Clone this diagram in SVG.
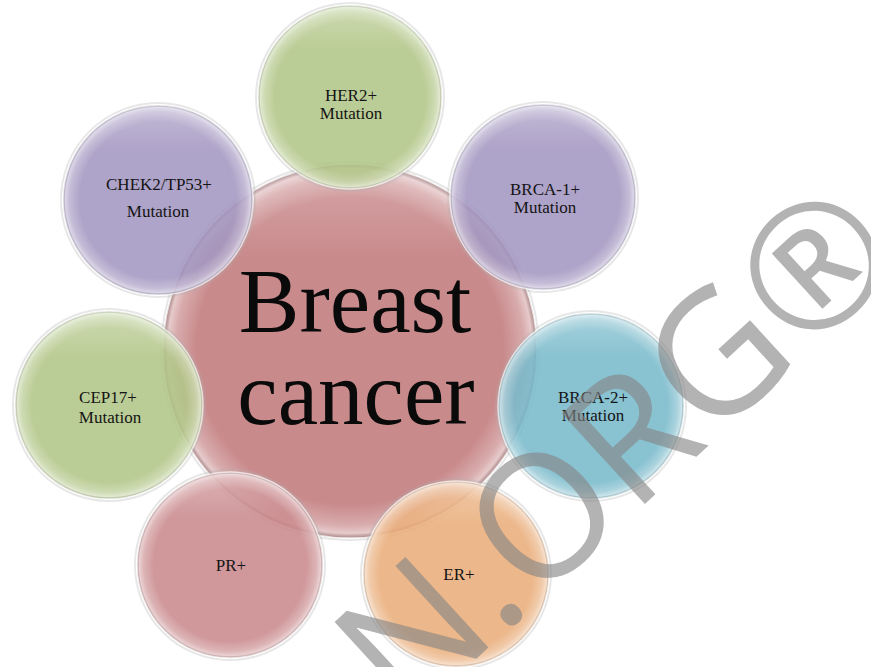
<svg xmlns="http://www.w3.org/2000/svg" width="871" height="667" viewBox="0 0 871 667">
  <style>
    .lbl { font-family: "Liberation Serif", "DejaVu Serif", serif; font-size: 17px; fill: #141414; text-anchor: middle; }
    .big { font-family: "Liberation Serif", "DejaVu Serif", serif; font-size: 91px; fill: #0a0a0a; text-anchor: middle; }
    .sat { fill-opacity: 0.86; }
    .rim { fill: url(#gloss); stroke: #ffffff; stroke-opacity: 0.7; stroke-width: 1.5; }
    .shadow { fill: none; stroke: #b0b0b0; stroke-opacity: 0.3; stroke-width: 2; }
    .wm { font-family: "Open Sans", "Liberation Sans", sans-serif; font-size: 172px; fill: #858585; fill-opacity: 0.62; }
  </style>
  <defs>
    <radialGradient id="gloss" cx="0.5" cy="0.5" r="0.5">
      <stop offset="0" stop-color="#ffffff" stop-opacity="0"/>
      <stop offset="0.82" stop-color="#ffffff" stop-opacity="0"/>
      <stop offset="0.93" stop-color="#ffffff" stop-opacity="0.28"/>
      <stop offset="0.975" stop-color="#ffffff" stop-opacity="0.55"/>
      <stop offset="1" stop-color="#8a8a8a" stop-opacity="0.45"/>
    </radialGradient>
    <linearGradient id="topHi" x1="0" y1="0" x2="0" y2="1">
      <stop offset="0" stop-color="#ffffff" stop-opacity="0.25"/>
      <stop offset="0.25" stop-color="#ffffff" stop-opacity="0"/>
      <stop offset="1" stop-color="#ffffff" stop-opacity="0"/>
    </linearGradient>
  </defs>
  <rect width="871" height="667" fill="#ffffff"/>

  <g id="center">
    <circle cx="350" cy="351" r="189" class="shadow"/>
    <circle cx="350" cy="351" r="187" fill="#c98a8c"/>
    <circle cx="350" cy="351" r="187" fill="url(#topHi)"/>
    <circle cx="350" cy="351" r="187" class="rim"/>
    <text class="big" x="355" y="332">Breast</text>
    <text class="big" x="356" y="424">cancer</text>
  </g>

  <g id="connectors"></g>

  <g id="her2">
    <circle cx="350" cy="97" r="94" class="shadow"/>
    <circle cx="350" cy="97" r="92" fill="#b0c585" class="sat"/>
    <circle cx="350" cy="97" r="92" fill="url(#topHi)"/>
    <circle cx="350" cy="97" r="92" class="rim"/>
    <text class="lbl" x="351" y="101">HER2+</text>
    <text class="lbl" x="351" y="119">Mutation</text>
  </g>

  <g id="brca1">
    <circle cx="543" cy="197" r="95" class="shadow"/>
    <circle cx="543" cy="197" r="93" fill="#a194bf" class="sat"/>
    <circle cx="543" cy="197" r="93" fill="url(#topHi)"/>
    <circle cx="543" cy="197" r="93" class="rim"/>
    <text class="lbl" x="545" y="195">BRCA-1+</text>
    <text class="lbl" x="545" y="213">Mutation</text>
  </g>

  <g id="brca2">
    <circle cx="591" cy="406" r="95" class="shadow"/>
    <circle cx="591" cy="406" r="93" fill="#76b8c9" class="sat"/>
    <circle cx="591" cy="406" r="93" fill="url(#topHi)"/>
    <circle cx="591" cy="406" r="93" class="rim"/>
    <text class="lbl" x="593" y="403">BRCA-2+</text>
    <text class="lbl" x="593" y="421">Mutation</text>
  </g>

  <g id="er">
    <circle cx="456" cy="574" r="95" class="shadow"/>
    <circle cx="456" cy="574" r="93" fill="#e9ab77" class="sat"/>
    <circle cx="456" cy="574" r="93" fill="url(#topHi)"/>
    <circle cx="456" cy="574" r="93" class="rim"/>
    <text class="lbl" x="459" y="580">ER+</text>
  </g>

  <g id="pr">
    <circle cx="230" cy="565" r="95" class="shadow"/>
    <circle cx="230" cy="565" r="93" fill="#c8878a" class="sat"/>
    <circle cx="230" cy="565" r="93" fill="url(#topHi)"/>
    <circle cx="230" cy="565" r="93" class="rim"/>
    <text class="lbl" x="231" y="571">PR+</text>
  </g>

  <g id="cep17">
    <circle cx="109" cy="405" r="96" class="shadow"/>
    <circle cx="109" cy="405" r="94" fill="#b0c585" class="sat"/>
    <circle cx="109" cy="405" r="94" fill="url(#topHi)"/>
    <circle cx="109" cy="405" r="94" class="rim"/>
    <text class="lbl" x="108" y="403">CEP17+</text>
    <text class="lbl" x="110" y="423">Mutation</text>
  </g>

  <g id="chek2">
    <circle cx="158" cy="200" r="97" class="shadow"/>
    <circle cx="158" cy="200" r="95" fill="#a194bf" class="sat"/>
    <circle cx="158" cy="200" r="95" fill="url(#topHi)"/>
    <circle cx="158" cy="200" r="95" class="rim"/>
    <text class="lbl" x="159" y="190">CHEK2/TP53+</text>
    <text class="lbl" x="158" y="217">Mutation</text>
  </g>

  <g id="watermark" transform="translate(513 612) rotate(-42.5)">
    <text class="wm" x="-155" y="9.5">N.ORG®</text>
  </g>
</svg>
